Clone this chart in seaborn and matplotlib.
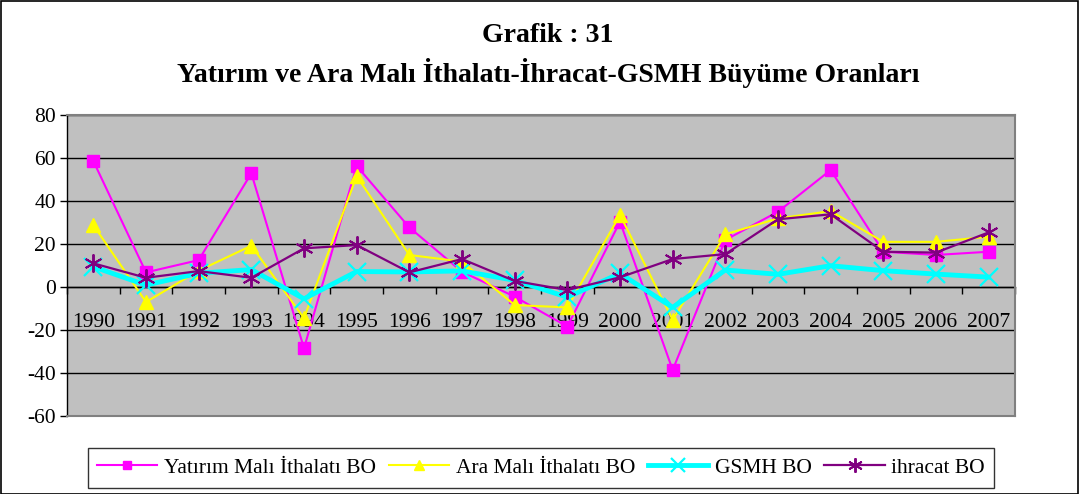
import matplotlib
matplotlib.use("Agg")
import matplotlib.pyplot as plt
import seaborn as sns
import numpy as np
import pandas as pd
from matplotlib.patches import Rectangle
from matplotlib.lines import Line2D

years = ["1990", "1991", "1992", "1993", "1994", "1995", "1996", "1997", "1998",
         "1999", "2000", "2001", "2002", "2003", "2004", "2005", "2006", "2007"]
yatirim = [58.6, 6.8, 12.5, 52.9, -28.5, 56.3, 27.7, 7.1, -4.5, -18.4, 30.4, -38.6,
           21.9, 35.0, 54.4, 16.4, 14.9, 16.4]
ara = [28.8, -7.0, 7.6, 19.2, -14.5, 51.6, 14.9, 11.8, -8.4, -9.5, 33.5, -15.3,
       24.5, 31.9, 35.3, 21.0, 21.0, 23.4]
gsmh = [9.4, 0.9, 6.4, 8.1, -5.5, 7.2, 7.0, 7.5, 3.1, -4.7, 6.3, -9.5,
        7.9, 5.9, 9.9, 7.6, 6.0, 4.6]
ihracat = [11.0, 4.3, 7.4, 4.3, 18.0, 19.5, 6.8, 13.0, 2.8, -1.4, 4.5, 13.0,
           15.3, 31.5, 33.8, 16.4, 16.0, 25.4]
labels = ["Yatırım Malı İthalatı BO", "Ara Malı İthalatı BO", "GSMH BO", "ihracat BO"]
title1 = "Grafik : 31"
title2 = "Yatırım ve Ara Malı İthalatı-İhracat-GSMH Büyüme Oranları"

plt.rcParams['font.family'] = ['Liberation Serif', 'DejaVu Serif']
plt.rcParams['axes.unicode_minus'] = False

W, H = 1081, 494
fig = plt.figure(figsize=(W / 100, H / 100), dpi=100)
fig.patch.set_facecolor('white')
fig.patches.append(Rectangle((0.5 / W, 0.5 / H), (W - 4) / W, (H - 1.5) / H,
                             transform=fig.transFigure, fill=False,
                             edgecolor='black', linewidth=1.2))

left, right, top, bottom = 67, 1015, 115, 416
ax = fig.add_axes([left / W, 1 - bottom / H, (right - left) / W, (bottom - top) / H])
ax.set_facecolor('#C0C0C0')

x = np.arange(len(years))
df = pd.DataFrame({"x": x, "a": yatirim, "b": ara, "c": gsmh, "d": ihracat})

styles = [
    ("a", "#FF00FF", "s", 1.5, 8, 1.0),
    ("b", "#FFFF00", "^", 1.5, 9.5, 1.0),
    ("c", "#00FFFF", "x", 3.5, 13, 1.6),
    ("d", "#800080", (6, 2, 0), 1.6, 13, 1.4),
]
for (col, color, m, lw, ms, mew), lab in zip(styles, labels):
    sns.lineplot(data=df, x="x", y=col, ax=ax, color=color, marker=m,
                 linewidth=lw, markersize=ms, markeredgewidth=mew,
                 markeredgecolor=color, markerfacecolor=color, label=lab,
                 sort=False, legend=False)

ax.set_xlim(-0.5, len(years) - 0.5)
ax.set_ylim(-60, 80)
ax.set_yticks(np.arange(-60, 81, 20))
ax.tick_params(axis='y', direction='out', length=5, width=1, labelsize=15.5,
               colors='black', pad=3)
ax.tick_params(axis='x', bottom=False, labelbottom=False)
ax.yaxis.grid(True, color='black', linewidth=1)
ax.set_axisbelow(True)
ax.set_xlabel("")
ax.set_ylabel("")
for s in ['top', 'right', 'bottom']:
    ax.spines[s].set_color('#808080')
    ax.spines[s].set_linewidth(1.5)
ax.spines['left'].set_color('black')
ax.spines['left'].set_linewidth(1)

sec = ax.secondary_xaxis(60 / 140)
sec.set_xticks(x)
sec.set_xticklabels(years, fontsize=15.5)
sec.set_xticks(np.arange(-0.5, len(years), 1.0), minor=True)
sec.tick_params(axis='x', which='major', length=0, pad=19)
sec.tick_params(axis='x', which='minor', length=5, width=1, direction='out', color='black')
sec.spines['bottom'].set_color('black')
sec.spines['bottom'].set_linewidth(1)

fig.text(548 / W, 1 - 35 / H, title1, ha='center', va='center',
         fontsize=20, fontweight='bold')
fig.text(548 / W, 1 - 73 / H, title2, ha='center', va='center',
         fontsize=20, fontweight='bold')

handles = []
for (col, color, m, lw, ms, mew), lab in zip(styles, labels):
    handles.append(Line2D([0], [0], color=color, marker=m, linewidth=lw,
                          markersize=ms * 0.8, markeredgewidth=mew,
                          markeredgecolor=color, markerfacecolor=color))
leg = fig.legend(handles, labels, loc='center', bbox_to_anchor=(541 / W, 1 - 468 / H),
                 ncol=4, frameon=True, fancybox=False, fontsize=15.5,
                 handlelength=2.8, handletextpad=0.3, columnspacing=0.6,
                 borderpad=0.45, numpoints=1)
leg.get_frame().set_edgecolor('black')
leg.get_frame().set_linewidth(1)

fig.savefig("out.png", dpi=100)
